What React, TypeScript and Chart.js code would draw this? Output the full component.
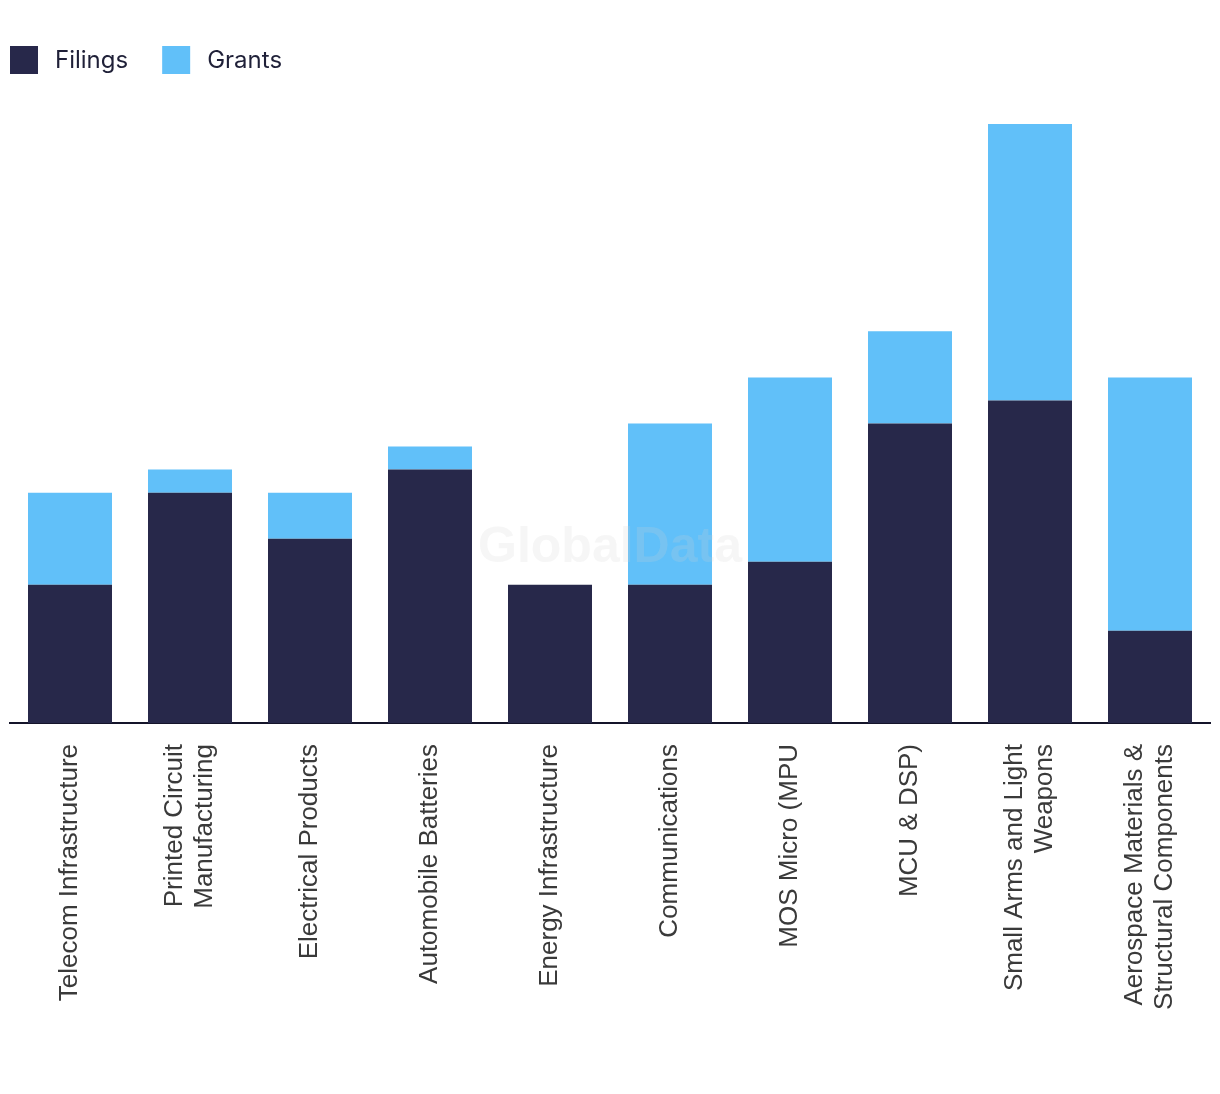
import React, { useEffect, useRef } from "react";
import { Chart, registerables } from "chart.js";

Chart.register(...registerables);

const categories: (string | string[])[] = [
  "Telecom Infrastructure",
  ["Printed Circuit", "Manufacturing"],
  "Electrical Products",
  "Automobile Batteries",
  "Energy Infrastructure",
  "Communications",
  "MOS Micro (MPU",
  "MCU & DSP)",
  ["Small Arms and Light", "Weapons"],
  ["Aerospace Materials &", "Structural Components"],
];
const filings = [6, 10, 8, 11, 6, 6, 7, 13, 14, 4];
const grants = [4, 1, 2, 1, 0, 7, 8, 4, 12, 11];

const watermark = {
  id: "watermark",
  afterDatasetsDraw(chart: any) {
    const { ctx } = chart;
    ctx.save();
    ctx.font = "bold 50px 'Liberation Sans', Arial, sans-serif";
    ctx.fillStyle = "rgba(210,210,210,0.2)";
    ctx.textAlign = "center";
    ctx.textBaseline = "middle";
    ctx.fillText("GlobalData", 610, 548);
    ctx.restore();
  },
};

const centerMultiline = {
  id: "centerMultiline",
  beforeDraw(chart: any) {
    const sc = chart.scales.x;
    if (!sc || !sc.getLabelItems) return;
    const items = sc.getLabelItems(chart.chartArea);
    items.forEach((it: any) => {
      if (Array.isArray(it.label) && it.label.length > 1 && !it._centered) {
        it.textOffset -= ((it.label.length - 1) * it.font.lineHeight) / 2;
        it._centered = true;
      }
    });
  },
};

const topLegend = {
  id: "topLegend",
  afterDraw(chart: any) {
    const { ctx } = chart;
    ctx.save();
    ctx.font = "24px Inter, 'Noto Sans', sans-serif";
    ctx.textBaseline = "middle";
    ctx.textAlign = "left";
    let x = 10;
    const y = 46;
    const box = 28;
    chart.data.datasets.forEach((ds: any) => {
      ctx.fillStyle = ds.backgroundColor;
      ctx.fillRect(x, y, box, box);
      const tx = x + box + 17;
      ctx.fillStyle = "#1f2038";
      ctx.fillText(ds.label, tx, y + box / 2 + 1);
      x = tx + ctx.measureText(ds.label).width + 34;
    });
    ctx.restore();
  },
};

export default function App() {
  const ref = useRef<HTMLCanvasElement | null>(null);
  useEffect(() => {
    if (!ref.current) return;
    const chart = new Chart(ref.current, {
      type: "bar",
      data: {
        labels: categories,
        datasets: [
          { label: "Filings", data: filings, backgroundColor: "#27284a", stack: "s" },
          { label: "Grants", data: grants, backgroundColor: "#61c0f9", stack: "s" },
        ],
      },
      plugins: [watermark, centerMultiline, topLegend],
      options: {
        animation: false,
        responsive: false,
        devicePixelRatio: 1,
        layout: { padding: { left: 10, right: 10, top: 101, bottom: 0 } },
        datasets: { bar: { categoryPercentage: 0.7, barPercentage: 1 } },
        plugins: {
          tooltip: { enabled: false },
          legend: { display: false },
        },
        scales: {
          x: {
            stacked: true,
            grid: { display: false, drawTicks: false },
            border: { display: true, color: "#14142a", width: 2 },
            afterFit(scale: any) {
              scale.height = 371;
              scale.paddingLeft = 0;
              scale.paddingRight = 0;
            },
            ticks: {
              autoSkip: false,
              maxRotation: 90,
              minRotation: 90,
              padding: 21,
              color: "#3a3a3a",
              font: { family: "'Liberation Sans', Arial, sans-serif", size: 26, lineHeight: 1.15 },
            },
          },
          y: {
            stacked: true,
            display: false,
            min: 0,
            max: 27,
          },
        },
      },
    });
    return () => chart.destroy();
  }, []);
  return (
    <div style={{ position: "absolute", left: 0, top: 0, width: 1220, height: 1094, background: "#fff" }}>
      <canvas ref={ref} width={1220} height={1094} style={{ width: 1220, height: 1094, display: "block" }} />
    </div>
  );
}
